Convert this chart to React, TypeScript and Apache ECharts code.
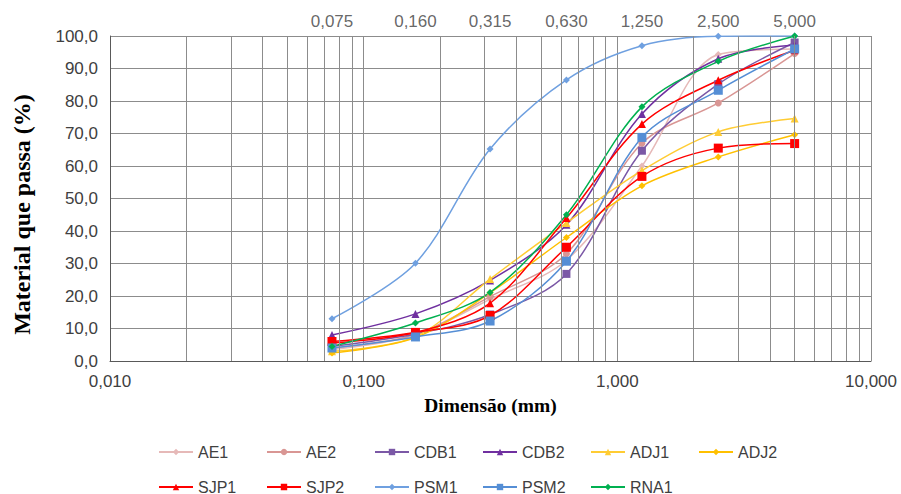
import React, { useEffect, useRef } from "react";
import * as echarts from "echarts";

const sieveSizes = [0.075, 0.16, 0.315, 0.63, 1.25, 2.5, 5.0];
const minorGridValues = [
  0.02, 0.03, 0.04, 0.05, 0.06, 0.07, 0.08, 0.09,
  0.2, 0.3, 0.4, 0.5, 0.6, 0.7, 0.8, 0.9,
  2, 3, 4, 5, 6, 7, 8, 9,
];

const AE1 = [3.5, 8.0, 19.0, 31.0, 60.0, 94.3, 96.0];
const AE2 = [4.0, 8.2, 19.8, 33.0, 67.0, 79.4, 94.6];
const CDB1 = [4.5, 8.3, 14.3, 26.8, 64.7, 85.2, 98.0];
const CDB2 = [8.0, 14.5, 24.8, 41.9, 76.0, 93.0, 97.2];
const ADJ1 = [3.0, 7.5, 25.2, 42.5, 58.6, 70.5, 74.6];
const ADJ2 = [2.5, 7.2, 21.0, 38.0, 53.9, 62.8, 69.6];
const SJP1 = [5.5, 8.8, 17.8, 44.0, 72.9, 86.4, 95.6];
const SJP2 = [6.0, 8.8, 14.0, 35.0, 56.8, 65.5, 66.9];
const PSM1 = [13.0, 30.1, 65.2, 86.5, 97.0, 99.9, 100.0];
const PSM2 = [4.0, 7.4, 12.3, 30.7, 68.8, 83.3, 96.0];
const RNA1 = [4.5, 11.7, 21.1, 45.0, 78.2, 92.2, 100.0];

const seriesDefs = [
  { name: "AE1", data: AE1, color: "#E6B9B8", symbol: "diamond", size: 7 },
  { name: "AE2", data: AE2, color: "#D99694", symbol: "circle", size: 7 },
  { name: "CDB1", data: CDB1, color: "#7B58A6", symbol: "rect", size: 8 },
  { name: "CDB2", data: CDB2, color: "#7030A0", symbol: "triangle", size: 8 },
  { name: "ADJ1", data: ADJ1, color: "#FFCC33", symbol: "triangle", size: 8 },
  { name: "ADJ2", data: ADJ2, color: "#FFC000", symbol: "diamond", size: 7 },
  { name: "SJP1", data: SJP1, color: "#FF0000", symbol: "triangle", size: 8 },
  { name: "SJP2", data: SJP2, color: "#FF0000", symbol: "rect", size: 9 },
  { name: "PSM1", data: PSM1, color: "#6FA0E0", symbol: "diamond", size: 7 },
  { name: "PSM2", data: PSM2, color: "#558ED5", symbol: "rect", size: 9 },
  { name: "RNA1", data: RNA1, color: "#00B050", symbol: "diamond", size: 7 },
];

const legendColX = [158, 266, 374, 482, 590, 698];
const legendRowY = [452, 487];

const fmt3 = (v: number) => v.toFixed(3).replace(".", ",");
const fmt1 = (v: number) => v.toFixed(1).replace(".", ",");

export default function App() {
  const ref = useRef<HTMLDivElement>(null);
  useEffect(() => {
    document.body.style.margin = "0";
    if (!ref.current) return;
    const chart = echarts.init(ref.current, null, { renderer: "svg" });
    const gridColor = "#8C8C8C";
    const series: any[] = seriesDefs.map((s) => ({
      name: s.name,
      type: "line",
      smooth: 0.33,
      symbol: s.symbol,
      symbolSize: s.size,
      showAllSymbol: true,
      data: sieveSizes.map((x, i) => [x, s.data[i]]),
      lineStyle: { color: s.color, width: 1.5 },
      itemStyle: { color: s.color },
      z: 3,
    }));
    series.push({
      name: "minorGrid",
      type: "line",
      data: [],
      silent: true,
      z: 1,
      markLine: {
        silent: true,
        symbol: ["none", "none"],
        label: { show: false },
        lineStyle: { color: gridColor, width: 1, type: "solid" },
        data: minorGridValues.map((v) => ({ xAxis: v })),
        animation: false,
      },
    });
    series.push({
      name: "sieveLabels",
      type: "scatter",
      symbolSize: 0,
      silent: true,
      data: sieveSizes.map((x) => [x, 100]),
      label: {
        show: true,
        position: "top",
        distance: 6,
        formatter: (p: any) => fmt3(p.value[0]),
        color: "#404040",
        fontSize: 17,
        fontFamily: "Liberation Sans, Arial, sans-serif",
      },
      z: 4,
    });
    const legends = seriesDefs.map((s, i) => ({
      data: [s.name],
      left: legendColX[i % 6],
      top: legendRowY[Math.floor(i / 6)] - 8,
      padding: 0,
      itemWidth: 34,
      itemHeight: 8,
      itemGap: 0,
      selectedMode: false,
      textStyle: {
        color: "#404040",
        fontSize: 16,
        fontFamily: "Liberation Sans, Arial, sans-serif",
      },
    }));
    chart.setOption({
      animation: false,
      backgroundColor: "#FFFFFF",
      grid: { left: 110, right: 30, top: 36, bottom: 133, containLabel: false },
      legend: legends,
      xAxis: {
        type: "log",
        logBase: 10,
        min: 0.01,
        max: 10,
        name: "Dimensão (mm)",
        nameLocation: "middle",
        nameGap: 34,
        nameTextStyle: {
          fontFamily: "Liberation Serif, Times New Roman, serif",
          fontWeight: "bold",
          fontSize: 19.5,
          color: "#000000",
          verticalAlign: "top",
        },
        axisLine: { show: true, lineStyle: { color: "#595959", width: 1 } },
        axisTick: { show: false },
        axisLabel: {
          formatter: (v: number) => fmt3(v),
          color: "#404040",
          fontSize: 17,
          margin: 12,
          fontFamily: "Liberation Sans, Arial, sans-serif",
        },
        splitLine: { show: true, lineStyle: { color: gridColor, width: 1 } },
        minorTick: { show: false },
        minorSplitLine: { show: false },
      },
      yAxis: {
        type: "value",
        min: 0,
        max: 100,
        interval: 10,
        name: "Material que passa (%)",
        nameLocation: "middle",
        nameGap: 76,
        nameTextStyle: {
          fontFamily: "Liberation Serif, Times New Roman, serif",
          fontWeight: "bold",
          fontSize: 24,
          color: "#000000",
          padding: [0, 32, 0, 0],
        },
        axisLine: { show: true, lineStyle: { color: "#595959", width: 1 } },
        axisTick: { show: false },
        axisLabel: {
          formatter: (v: number) => fmt1(v),
          color: "#404040",
          fontSize: 17,
          margin: 12,
          fontFamily: "Liberation Sans, Arial, sans-serif",
        },
        splitLine: { show: true, lineStyle: { color: gridColor, width: 1 } },
      },
      series,
    });
    return () => chart.dispose();
  }, []);
  return <div ref={ref} style={{ width: 901, height: 494 }} />;
}
